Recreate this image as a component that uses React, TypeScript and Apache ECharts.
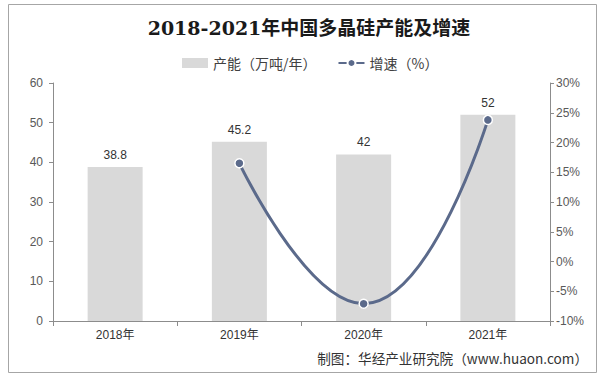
import React, { useEffect, useRef } from "react";
import * as echarts from "echarts";

const categories = ["2018年", "2019年", "2020年", "2021年"];
const capacity = [38.8, 45.2, 42, 52];
const growth = [null, 16.5, -7.1, 23.8];
const titleText = "2018-2021年中国多晶硅产能及增速";
const sourceText = "制图：华经产业研究院（www.huaon.com）";

export default function App() {
  const ref = useRef<HTMLDivElement>(null);
  useEffect(() => {
    if (!ref.current) return;
    const chart = echarts.init(ref.current, null, { renderer: "svg" });
    const axisFont = { fontFamily: "Liberation Sans, Arial, sans-serif", fontSize: 12, color: "#595959" };
    chart.setOption({
      animation: false,
      backgroundColor: "#ffffff",
      title: {
        text: titleText,
        left: 304,
        textAlign: "center",
        top: 13,
        textStyle: { fontFamily: "DejaVu Serif, Noto Sans CJK SC, serif", fontWeight: "bold", fontSize: 19, color: "#1a1a1a" },
      },
      legend: {
        top: 56,
        left: 182,
        padding: 0,
        itemGap: 21,
        itemWidth: 26,
        itemHeight: 10,
        textStyle: { fontFamily: "Noto Sans CJK SC, sans-serif", fontSize: 14, color: "#404040" },
        data: [
          { name: "产能（万吨/年）", icon: "rect" },
          { name: "增速（%）" },
        ],
      },
      grid: { left: 53, right: 55, top: 83, bottom: 60 },
      xAxis: {
        type: "category",
        data: categories,
        axisLine: { lineStyle: { color: "#8c8c8c" } },
        axisTick: { show: true, alignWithLabel: false, length: 5, lineStyle: { color: "#8c8c8c" } },
        axisLabel: { fontFamily: "Liberation Sans, Noto Sans CJK SC, sans-serif", fontSize: 12, color: "#333", margin: 8 },
      },
      yAxis: [
        {
          type: "value",
          min: 0,
          max: 60,
          interval: 10,
          axisLine: { show: true, lineStyle: { color: "#8c8c8c" } },
          axisTick: { show: true, length: 4, lineStyle: { color: "#8c8c8c" } },
          splitLine: { show: false },
          axisLabel: { ...axisFont, margin: 10 },
        },
        {
          type: "value",
          min: -10,
          max: 30,
          interval: 5,
          axisLine: { show: true, lineStyle: { color: "#8c8c8c" } },
          axisTick: { show: true, length: 4, lineStyle: { color: "#8c8c8c" } },
          splitLine: { show: false },
          axisLabel: { ...axisFont, margin: 6, formatter: "{value}%" },
        },
      ],
      series: [
        {
          name: "产能（万吨/年）",
          type: "bar",
          data: capacity,
          barWidth: 55,
          itemStyle: { color: "#d9d9d9" },
          label: {
            show: true,
            position: "top",
            distance: 6,
            fontFamily: "Liberation Sans, Arial, sans-serif",
            fontSize: 12,
            color: "#333",
          },
        },
        {
          name: "增速（%）",
          type: "line",
          yAxisIndex: 1,
          data: growth,
          smooth: 0.5,
          symbol: "circle",
          symbolSize: 9,
          lineStyle: { color: "#5b6a8b", width: 3 },
          itemStyle: { color: "#5b6a8b", borderColor: "#ffffff", borderWidth: 1.5 },
        },
      ],
      graphic: [
        {
          type: "rect",
          shape: { x: 8.5, y: 4.5, width: 588, height: 368 },
          style: { fill: "none", stroke: "#a6a6a6", lineWidth: 1 },
          silent: true,
        },
        {
          type: "text",
          x: 588,
          y: 358,
          style: {
            text: sourceText,
            align: "right",
            verticalAlign: "middle",
            fontFamily: "Noto Sans CJK SC, sans-serif",
            fontSize: 13.6,
            fill: "#333",
          },
        },
      ],
    });
    return () => chart.dispose();
  }, []);
  return <div ref={ref} style={{ width: 605, height: 381, position: "absolute", left: 0, top: 0 }} />;
}
